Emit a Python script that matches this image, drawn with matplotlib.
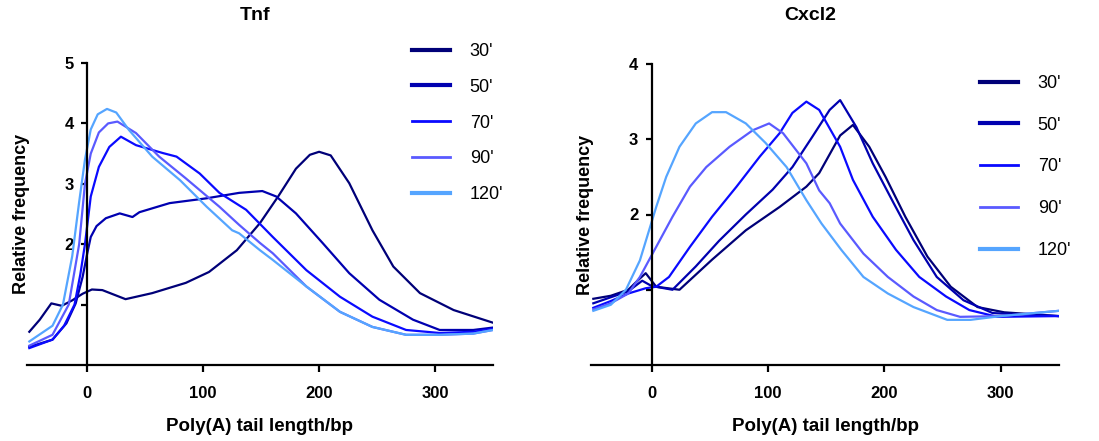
import matplotlib
matplotlib.use('Agg')
import matplotlib.pyplot as plt

plt.rcParams['font.family'] = ['Liberation Sans', 'DejaVu Sans']

labels = ["30'", "50'", "70'", "90'", "120'"]
colors = ['#000078', '#0000b0', '#0a0aff', '#5a5aff', '#55a5ff']
leg_lw = [3.0, 3.0, 2.0, 2.0, 3.0]

# Tnf
tnf_30_x = [-50, -41, -31, -22, -13, -4, 4, 13, 33, 56, 85, 105, 129, 149, 165, 180, 192, 200, 210, 226, 246, 264, 287, 316, 350]
tnf_30_y = [0.55, 0.75, 1.02, 0.98, 1.07, 1.18, 1.25, 1.24, 1.09, 1.19, 1.36, 1.54, 1.90, 2.35, 2.80, 3.25, 3.48, 3.53, 3.47, 3.01, 2.23, 1.63, 1.19, 0.91, 0.70]
tnf_50_x = [-50, -30, -18, -10, -4, 0, 3, 8, 16, 28, 39, 45, 71, 103, 131, 151, 163, 180, 203, 226, 252, 281, 304, 333, 350]
tnf_50_y = [0.30, 0.42, 0.69, 1.02, 1.46, 1.85, 2.12, 2.30, 2.43, 2.51, 2.45, 2.53, 2.68, 2.76, 2.85, 2.88, 2.79, 2.51, 2.02, 1.52, 1.08, 0.75, 0.58, 0.58, 0.62]
tnf_70_x = [-50, -30, -20, -11, -6, -2, 3, 10, 19, 29, 42, 65, 77, 97, 114, 137, 160, 189, 218, 246, 275, 304, 333, 350]
tnf_70_y = [0.28, 0.42, 0.65, 1.0, 1.5, 2.0, 2.79, 3.28, 3.61, 3.78, 3.64, 3.51, 3.45, 3.17, 2.85, 2.57, 2.12, 1.57, 1.13, 0.80, 0.58, 0.53, 0.55, 0.60]
tnf_90_x = [-50, -30, -16, -7, -2, 3, 10, 18, 26, 42, 62, 85, 114, 131, 149, 160, 189, 218, 246, 275, 304, 333, 350]
tnf_90_y = [0.32, 0.50, 1.0, 2.0, 3.0, 3.5, 3.85, 4.0, 4.03, 3.84, 3.45, 3.09, 2.62, 2.32, 2.02, 1.85, 1.30, 0.88, 0.63, 0.50, 0.50, 0.52, 0.58]
tnf_120_x = [-50, -30, -21, -13, -7, -2, 3, 9, 17, 25, 36, 56, 80, 103, 125, 131, 149, 160, 189, 218, 246, 275, 304, 333, 350]
tnf_120_y = [0.39, 0.65, 1.0, 1.8, 2.7, 3.4, 3.9, 4.15, 4.24, 4.18, 3.89, 3.45, 3.06, 2.62, 2.23, 2.18, 1.90, 1.74, 1.30, 0.88, 0.63, 0.50, 0.50, 0.52, 0.58]

# Cxcl2
cx_30_x = [-50, -35, -20, -10, -5, 0, 4, 24, 52, 81, 110, 133, 144, 153, 162, 173, 187, 201, 218, 237, 257, 280, 303, 350]
cx_30_y = [0.88, 0.92, 1.0, 1.15, 1.22, 1.12, 1.04, 1.0, 1.40, 1.79, 2.10, 2.37, 2.55, 2.80, 3.05, 3.19, 2.90, 2.50, 1.97, 1.44, 1.04, 0.77, 0.70, 0.65]
cx_50_x = [-50, -35, -20, -8, 0, 18, 38, 58, 81, 104, 121, 138, 153, 162, 176, 190, 208, 225, 245, 268, 293, 350]
cx_50_y = [0.82, 0.90, 0.98, 1.12, 1.05, 1.0, 1.31, 1.65, 2.0, 2.33, 2.63, 3.03, 3.39, 3.52, 3.16, 2.68, 2.15, 1.66, 1.17, 0.86, 0.69, 0.65]
cx_70_x = [-50, -35, -20, -5, 4, 15, 33, 52, 73, 93, 110, 121, 133, 144, 162, 173, 190, 210, 230, 253, 273, 297, 350]
cx_70_y = [0.76, 0.85, 0.95, 1.02, 1.04, 1.17, 1.57, 1.97, 2.37, 2.77, 3.08, 3.35, 3.50, 3.39, 2.90, 2.46, 1.97, 1.53, 1.17, 0.91, 0.73, 0.64, 0.65]
cx_90_x = [-50, -35, -20, -10, 4, 18, 33, 47, 67, 87, 101, 113, 133, 144, 153, 162, 182, 203, 225, 245, 265, 300, 350]
cx_90_y = [0.74, 0.82, 0.95, 1.17, 1.57, 1.97, 2.37, 2.63, 2.90, 3.12, 3.21, 3.08, 2.68, 2.32, 2.15, 1.88, 1.48, 1.17, 0.91, 0.73, 0.64, 0.65, 0.72]
cx_120_x = [-50, -35, -22, -10, 4, 12.6, 24, 38, 52, 64, 81, 98, 116, 133, 146, 163, 182, 203, 225, 254, 274, 300, 350]
cx_120_y = [0.72, 0.80, 1.0, 1.39, 2.10, 2.50, 2.90, 3.21, 3.36, 3.36, 3.21, 2.95, 2.63, 2.19, 1.88, 1.53, 1.17, 0.95, 0.77, 0.60, 0.60, 0.65, 0.72]

tnf = [(tnf_30_x, tnf_30_y), (tnf_50_x, tnf_50_y), (tnf_70_x, tnf_70_y),
       (tnf_90_x, tnf_90_y), (tnf_120_x, tnf_120_y)]
cxcl2 = [(cx_30_x, cx_30_y), (cx_50_x, cx_50_y), (cx_70_x, cx_70_y),
         (cx_90_x, cx_90_y), (cx_120_x, cx_120_y)]

xticks = [0, 100, 200, 300]


def style_axes(ax, ymax, title_x, title, leg_anchor, leg_spacing):
    ax.set_xlim(-52, 350)
    ax.set_ylim(0, ymax)
    for s in ['top', 'right']:
        ax.spines[s].set_visible(False)
    ax.spines['left'].set_position(('data', 0))
    ax.spines['left'].set_bounds(0, ymax)
    ax.spines['left'].set_linewidth(1.6)
    ax.spines['bottom'].set_linewidth(1.6)
    ax.set_axisbelow(True)
    ax.set_xticks(xticks)
    ax.set_xticklabels([str(t) for t in xticks], fontweight='bold', fontsize=12)
    yt = list(range(1, ymax + 1))
    ax.set_yticks(yt)
    ax.set_yticklabels([''] + [str(t) for t in yt[1:]], fontweight='bold', fontsize=12)
    ax.tick_params(axis='x', length=5, width=1.6, pad=10)
    ax.tick_params(axis='y', length=4.5, width=1.6, pad=5)
    ax.set_xlabel('Poly(A) tail length/bp', fontweight='bold', fontsize=13.5)
    ax.xaxis.set_label_coords(0.5, -0.175)
    ax.set_ylabel('Relative frequency', fontweight='bold', fontsize=13)
    ax.yaxis.set_label_coords(0.006, 0.5)
    ax.figure.text(title_x, 1 - 15 / 441., title, fontweight='bold', fontsize=14,
                   ha='center', va='center')
    leg = ax.legend(loc='upper left', bbox_to_anchor=leg_anchor,
                    bbox_transform=ax.figure.transFigure, frameon=False,
                    fontsize=13, handlelength=2.1, handletextpad=1.1,
                    labelspacing=leg_spacing, borderpad=0, borderaxespad=0)
    for ln, w in zip(leg.get_lines(), leg_lw):
        ln.set_linewidth(w)


fig = plt.figure(figsize=(10.99, 4.41), dpi=100)
ax1 = fig.add_axes([27 / 1099., 76 / 441., 466 / 1099., 302 / 441.])
ax2 = fig.add_axes([591 / 1099., 76 / 441., 468 / 1099., 301 / 441.])

for (x, y), c, lab in zip(tnf, colors, labels):
    ax1.plot(x, y, color=c, lw=1.6, label=lab)
for (x, y), c, lab in zip(cxcl2, colors, labels):
    ax2.plot(x, y, color=c, lw=1.6, label=lab)

style_axes(ax1, 5, 255 / 1099., 'Tnf', (412 / 1099., 1 - 43 / 441.), 1.04)
style_axes(ax2, 4, 810 / 1099., 'Cxcl2', (980 / 1099., 1 - 75 / 441.), 1.37)

fig.savefig('out.png', dpi=100)
